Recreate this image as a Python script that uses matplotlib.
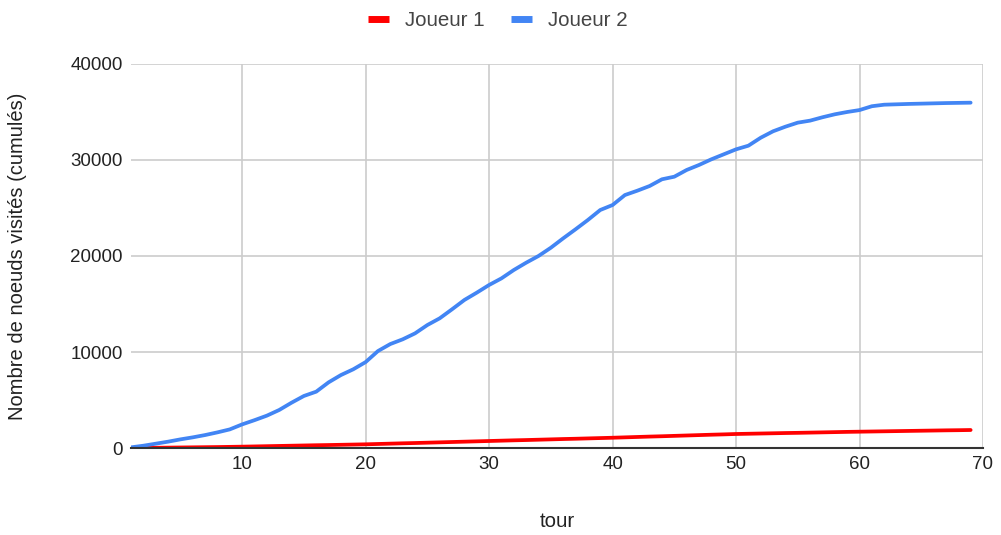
import numpy as np
import matplotlib.pyplot as plt

tours = list(range(1, 70))

joueur1 = [0, 10, 25, 40, 55, 70, 85, 100, 120, 140,
           165, 190, 215, 240, 265, 290, 310, 335, 360, 385,
           420, 455, 490, 520, 555, 590, 625, 660, 695, 730,
           765, 800, 830, 865, 900, 935, 965, 1000, 1035, 1070,
           1110, 1150, 1190, 1225, 1265, 1305, 1345, 1385, 1420, 1460,
           1485, 1510, 1535, 1560, 1580, 1605, 1630, 1655, 1680, 1700,
           1720, 1740, 1760, 1780, 1800, 1820, 1840, 1855, 1875]

joueur2 = [70, 240, 450, 660, 900, 1110, 1350, 1630, 1940, 2460,
           2900, 3370, 3960, 4720, 5420, 5870, 6840, 7600, 8200, 8950,
           10100, 10830, 11320, 11940, 12810, 13510, 14450, 15420, 16180, 16980,
           17670, 18540, 19300, 20000, 20860, 21840, 22780, 23750, 24790, 25310,
           26350, 26800, 27290, 27990, 28260, 28960, 29480, 30070, 30590, 31110,
           31490, 32320, 32990, 33470, 33890, 34100, 34450, 34760, 35000, 35200,
           35600, 35760, 35800, 35840, 35870, 35900, 35930, 35950, 35970]

plt.rcParams['font.family'] = ['Liberation Sans', 'DejaVu Sans']

fig = plt.figure(figsize=(10.01, 5.35), dpi=100)
ax = fig.add_axes([0.1309, 0.1626, 0.8511, 0.7178])

ax.plot(tours, joueur1, color='#ff0000', linewidth=2.7, label='Joueur 1', solid_capstyle='round')
ax.plot(tours, joueur2, color='#4285f4', linewidth=2.7, label='Joueur 2', solid_capstyle='round')

ax.set_xlim(1, 70)
ax.set_ylim(0, 40000)
ax.set_xticks(range(10, 71, 10))
ax.set_yticks(range(0, 40001, 10000))
ax.grid(color='#cccccc', linewidth=1.2)
ax.set_axisbelow(True)
for s in ['top', 'right', 'left']:
    ax.spines[s].set_visible(False)
ax.spines['bottom'].set_color('#333333')
ax.spines['bottom'].set_linewidth(1.5)
ax.tick_params(length=0, labelsize=13.5, labelcolor='#222222', pad=6)

ax.set_xlabel('tour', fontsize=14.8, color='#222222', labelpad=28)
ax.set_ylabel('Nombre de noeuds visités (cumulés)', fontsize=14.5, color='#222222', labelpad=31)

handles, labels = ax.get_legend_handles_labels()
leg = fig.legend(handles, labels, loc='center', bbox_to_anchor=(0.497, 0.962), ncol=2, frameon=False,
                 fontsize=14.8, handlelength=1.05, handletextpad=0.75, columnspacing=1.3)
for t in leg.get_texts():
    t.set_color('#444444')
for h in leg.get_lines():
    h.set_linewidth(5)
    h.set_solid_capstyle('butt')

plt.savefig('out.png', dpi=100)
